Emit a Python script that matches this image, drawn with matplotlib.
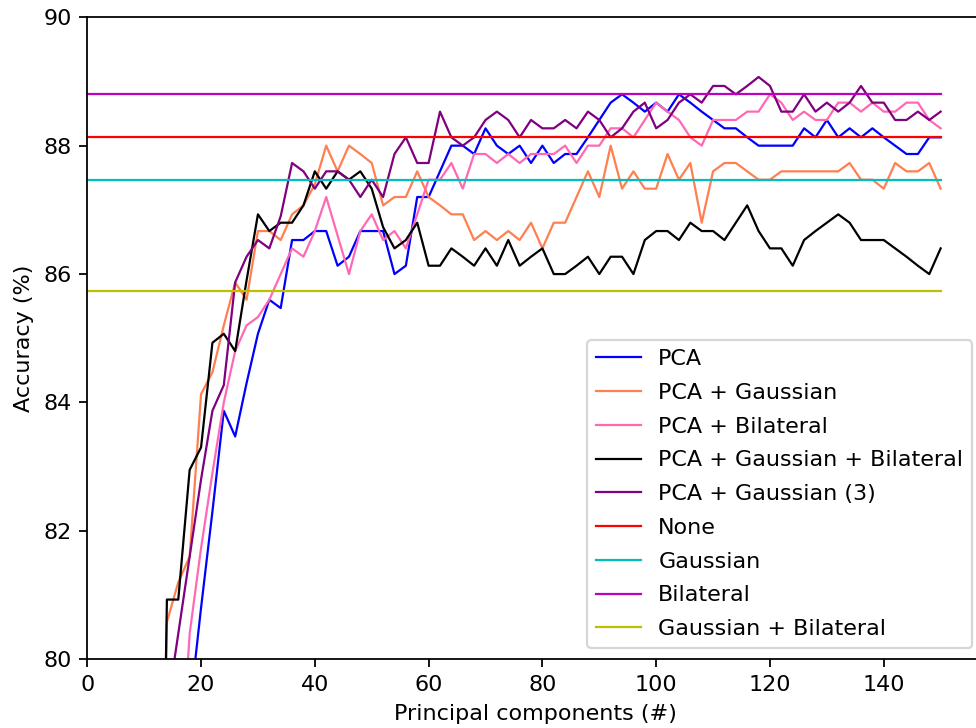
import numpy as np
import matplotlib.pyplot as plt

# Broj glavnih komponenti
components = np.arange(12, 151, 2)

# Tocnost (%) za svaku kombinaciju
pca = [70, 74, 77, 79.2, 80.8, 82.3, 83.87, 83.47, 84.3, 85.07,
       85.6, 85.47, 86.53, 86.53, 86.67, 86.67, 86.13, 86.27, 86.67, 86.67,
       86.67, 86.0, 86.13, 87.2, 87.2, 87.6, 88.0, 88.0, 87.87, 88.27,
       88.0, 87.87, 88.0, 87.73, 88.0, 87.73, 87.87, 87.87, 88.13, 88.4,
       88.67, 88.8, 88.67, 88.53, 88.67, 88.53, 88.8, 88.67, 88.53, 88.4,
       88.27, 88.27, 88.13, 88.0, 88.0, 88.0, 88.0, 88.27, 88.13, 88.4,
       88.13, 88.27, 88.13, 88.27, 88.13, 88.0, 87.87, 87.87, 88.13, 88.13]
pca_gauss = [70, 80.58, 81.2, 81.6, 84.13, 84.47, 85.2, 85.87, 85.6, 86.67,
             86.67, 86.53, 86.93, 87.07, 87.4, 88.0, 87.6, 88.0, 87.87, 87.73,
             87.07, 87.2, 87.2, 87.6, 87.2, 87.07, 86.93, 86.93, 86.53, 86.67,
             86.53, 86.67, 86.53, 86.8, 86.4, 86.8, 86.8, 87.2, 87.6, 87.2,
             88.0, 87.33, 87.6, 87.33, 87.33, 87.87, 87.47, 87.73, 86.8, 87.6,
             87.73, 87.73, 87.6, 87.47, 87.47, 87.6, 87.6, 87.6, 87.6, 87.6,
             87.6, 87.73, 87.47, 87.47, 87.33, 87.73, 87.6, 87.6, 87.73, 87.33]
pca_bilat = [70, 73, 77.6, 80.4, 81.73, 82.9, 84.0, 84.8, 85.2, 85.33,
             85.6, 86.0, 86.4, 86.27, 86.67, 87.2, 86.6, 86.0, 86.67, 86.93,
             86.53, 86.67, 86.4, 86.93, 87.47, 87.47, 87.73, 87.33, 87.87, 87.87,
             87.73, 87.87, 87.73, 87.87, 87.87, 87.87, 88.0, 87.73, 88.0, 88.0,
             88.27, 88.27, 88.13, 88.4, 88.67, 88.53, 88.4, 88.13, 88.0, 88.4,
             88.4, 88.4, 88.53, 88.53, 88.8, 88.67, 88.4, 88.53, 88.4, 88.4,
             88.67, 88.67, 88.53, 88.67, 88.53, 88.53, 88.67, 88.67, 88.4, 88.27]
pca_gauss_bilat = [70, 80.93, 80.93, 82.95, 83.3, 84.93, 85.07, 84.8, 85.9, 86.93,
                   86.67, 86.8, 86.8, 87.07, 87.6, 87.33, 87.6, 87.47, 87.6, 87.33,
                   86.73, 86.4, 86.53, 86.8, 86.13, 86.13, 86.4, 86.27, 86.13, 86.4,
                   86.13, 86.53, 86.13, 86.27, 86.4, 86.0, 86.0, 86.13, 86.27, 86.0,
                   86.27, 86.27, 86.0, 86.53, 86.67, 86.67, 86.53, 86.8, 86.67, 86.67,
                   86.53, 86.8, 87.07, 86.67, 86.4, 86.4, 86.13, 86.53, 86.67, 86.8,
                   86.93, 86.8, 86.53, 86.53, 86.53, 86.4, 86.27, 86.13, 86.0, 86.4]
pca_gauss3 = [76, 79.2, 80.4, 81.6, 82.8, 83.87, 84.27, 85.87, 86.27, 86.53,
              86.4, 86.9, 87.73, 87.6, 87.33, 87.6, 87.6, 87.47, 87.2, 87.47,
              87.2, 87.87, 88.13, 87.73, 87.73, 88.53, 88.13, 88.0, 88.13, 88.4,
              88.53, 88.4, 88.13, 88.4, 88.27, 88.27, 88.4, 88.27, 88.53, 88.4,
              88.13, 88.27, 88.53, 88.67, 88.27, 88.4, 88.67, 88.8, 88.67, 88.93,
              88.93, 88.8, 88.93, 89.07, 88.93, 88.53, 88.53, 88.8, 88.53, 88.67,
              88.53, 88.67, 88.93, 88.67, 88.67, 88.4, 88.4, 88.53, 88.4, 88.53]

# Bez PCA (konstantne vrijednosti)
baseline_x = [0, 150]
none_acc = 88.13
gauss_acc = 87.47
bilat_acc = 88.8
gauss_bilat_acc = 85.73

fig = plt.figure(figsize=(976 / 160, 728 / 160), dpi=160)
ax = fig.add_axes([0.0894, 0.0944, 0.9181, 0.8819])

lw = 1
ax.plot(components, pca, color='blue', lw=lw, label='PCA')
ax.plot(components, pca_gauss, color='coral', lw=lw, label='PCA + Gaussian')
ax.plot(components, pca_bilat, color='hotpink', lw=lw, label='PCA + Bilateral')
ax.plot(components, pca_gauss_bilat, color='black', lw=lw, label='PCA + Gaussian + Bilateral')
ax.plot(components, pca_gauss3, color='purple', lw=lw, label='PCA + Gaussian (3)')
ax.plot(baseline_x, [none_acc] * 2, color='r', lw=lw, label='None')
ax.plot(baseline_x, [gauss_acc] * 2, color='c', lw=lw, label='Gaussian')
ax.plot(baseline_x, [bilat_acc] * 2, color='m', lw=lw, label='Bilateral')
ax.plot(baseline_x, [gauss_bilat_acc] * 2, color='y', lw=lw, label='Gaussian + Bilateral')

ax.set_xlim(0, 157.5)
ax.set_ylim(80, 90)
ax.set_xlabel('Principal components (#)')
ax.set_ylabel('Accuracy (%)')
ax.legend(loc='lower right', labelspacing=0.62)

fig.savefig('out.png', dpi=160)
